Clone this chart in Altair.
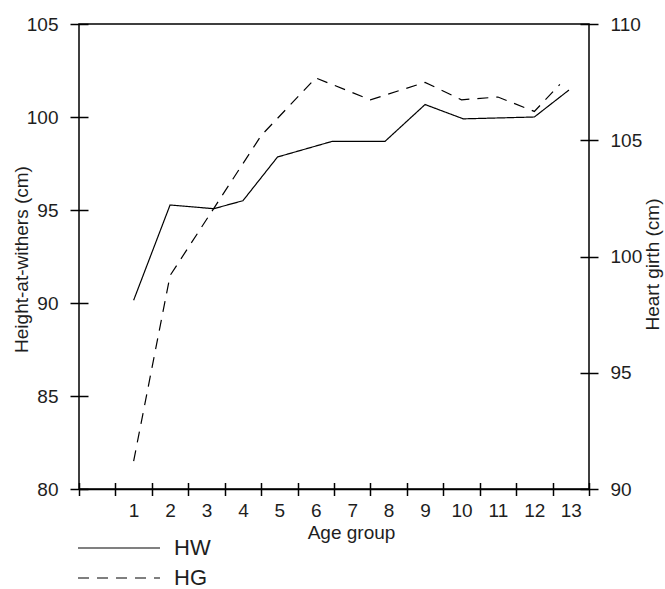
import altair as alt
import pandas as pd

# ---- data ----
age_labels = list(range(1, 14))

hw_age = [1, 2, 3.2, 4, 4.95, 6.45, 7.9, 9, 10.05, 12, 12.95]
hw_val = [90.15, 95.27, 95.07, 95.5, 97.85, 98.69, 98.69, 100.67, 99.9, 100.0, 101.45]

hg_age = [1, 2, 4.5, 6, 7.5, 9, 10, 11, 12, 12.7]
hg_val = [91.2, 99.18, 105.2, 107.68, 106.74, 107.49, 106.74, 106.86, 106.24, 107.4]

hw_axis_ticks = [80, 85, 90, 95, 100, 105]
hg_axis_ticks = [90, 95, 100, 105, 110]
x_axis_ticks = [-0.5, 0.5, 1.5, 2.5, 3.5, 4.5, 5.5, 6.5, 7.5, 8.5, 9.5, 10.5, 11.5, 12.5, 13.5]

X_DOMAIN = [-0.5, 13.5]
HW_DOMAIN = [80, 105]
HG_DOMAIN = [90, 110]

FONT = "Liberation Sans"
TXT = "#1e1e1e"

hw_df = pd.DataFrame({"age": hw_age, "hw": hw_val, "series": "HW"})
hg_df = pd.DataFrame({"age": hg_age, "hg": hg_val, "series": "HG"})

x_scale = alt.Scale(domain=X_DOMAIN, nice=False, zero=False)
hw_scale = alt.Scale(domain=HW_DOMAIN, nice=False, zero=False)
hg_scale = alt.Scale(domain=HG_DOMAIN, nice=False, zero=False)

dash_scale = alt.Scale(domain=["HW", "HG"], range=[[1, 0], [11, 8]])

legend = alt.Legend(
    orient="none", legendX=29, legendY=513, title=None, direction="vertical",
    symbolType="M-8,0H8", symbolSize=105, symbolStrokeWidth=1.2,
    symbolStrokeColor="black", labelFontSize=22, labelFont=FONT,
    labelColor=TXT, labelOffset=44, rowPadding=8, padding=0,
)

# x axis with labels at the age groups (no ticks)
x_axis = alt.Axis(
    values=age_labels, title="Age group", orient="bottom", ticks=False, tickSize=0,
    labelPadding=12, labelFlush=False, grid=False, domain=True,
    titleX=272, titlePadding=3,
)
# x axis carrying only the crossing tick marks between age groups
x_tick_axis = alt.Axis(
    values=x_axis_ticks, title=None, orient="bottom", labels=False, domain=False, grid=False,
    ticks=True, tickSize=13, offset=-6.5,
)

hw_axis = alt.Axis(
    values=hw_axis_ticks, title="Height-at-withers (cm)", orient="left",
    ticks=True, tickSize=18, offset=-9, domain=False,
    labelPadding=12, labelFlush=False, grid=False,
    titleX=-61, titleY=235, titleAngle=270, titleBaseline="alphabetic", titleAlign="center",
)

hg_axis = alt.Axis(
    values=hg_axis_ticks, title="Heart girth (cm)", orient="right",
    ticks=True, tickSize=18, offset=-9, domain=False,
    labelPadding=12, labelFlush=False, grid=False,
    titleX=78, titleY=240, titleAngle=270, titleBaseline="alphabetic", titleAlign="center",
)

hw_line = alt.Chart(hw_df).mark_line(color="black", strokeWidth=1.2).encode(
    x=alt.X("age:Q", scale=x_scale, axis=x_axis),
    y=alt.Y("hw:Q", scale=hw_scale, axis=hw_axis),
    strokeDash=alt.StrokeDash("series:N", scale=dash_scale, legend=legend),
)

hg_line = alt.Chart(hg_df).mark_line(color="black", strokeWidth=1.2).encode(
    x=alt.X("age:Q", scale=x_scale, axis=None),
    y=alt.Y("hg:Q", scale=hg_scale, axis=hg_axis),
    strokeDash=alt.StrokeDash("series:N", scale=dash_scale, legend=legend),
)

# invisible layer that only carries the x tick-mark axis
tick_carrier = alt.Chart(hw_df).mark_line(opacity=0).encode(
    x=alt.X("age:Q", scale=x_scale, axis=x_tick_axis),
    y=alt.Y("hw:Q", scale=hw_scale, axis=None),
)

chart = alt.layer(hw_line, hg_line, tick_carrier).resolve_scale(
    x="independent", y="independent"
).properties(
    width=510, height=465,
    autosize=alt.AutoSizeParams(type="none"),
    padding={"left": 79, "top": 24, "right": 76, "bottom": 100},
    background="white",
).configure_view(
    stroke="black", strokeWidth=1.5,
).configure_axis(
    labelFont=FONT, labelFontSize=19, labelColor=TXT,
    titleFont=FONT, titleFontSize=19, titleFontWeight="normal", titleColor=TXT,
    domainColor="black", domainWidth=1.5, tickColor="black", tickWidth=1.5,
    labelOverlap=False,
)

chart.save("out.html", embed_options={"renderer": "svg", "actions": False})
